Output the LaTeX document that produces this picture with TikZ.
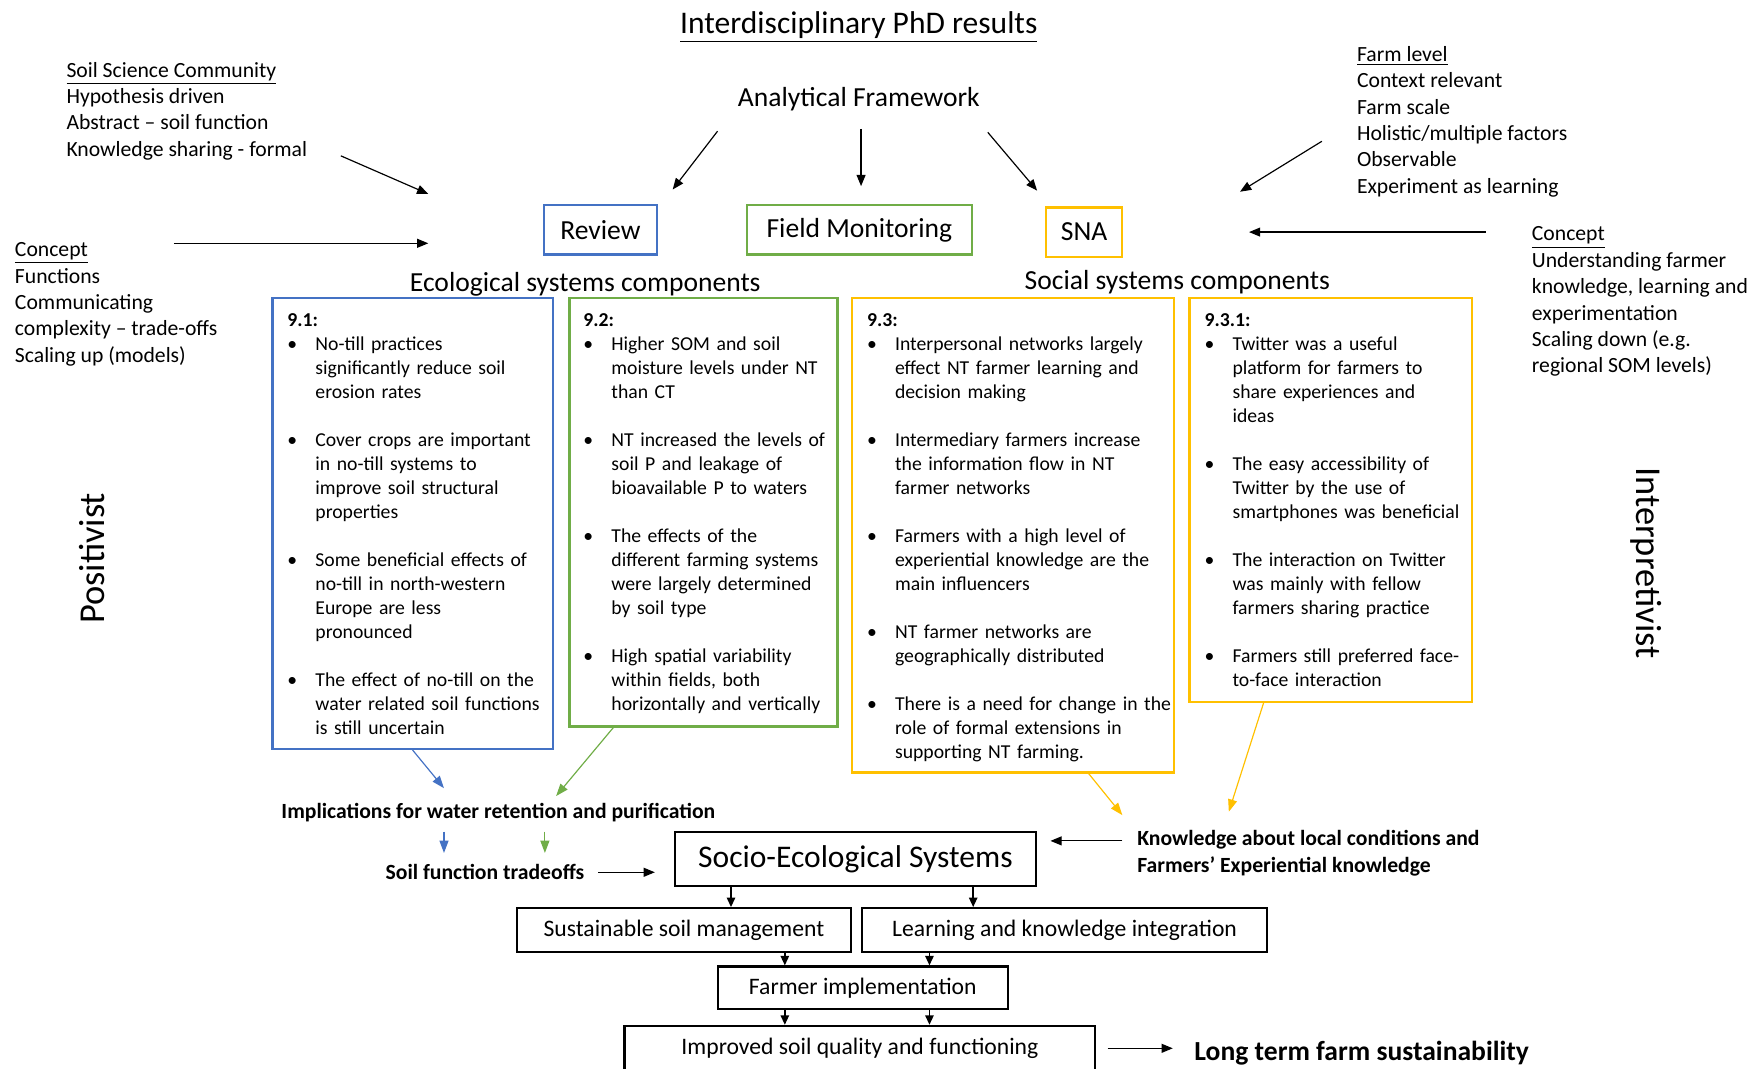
\documentclass[tikz,border=0pt]{standalone}
\usepackage{fontspec}
\setmainfont{Carlito}
\usepackage{enumitem}
\usetikzlibrary{arrows.meta,fit}
\definecolor{offblue}{HTML}{4472C4}
\definecolor{offgreen}{HTML}{70AD47}
\definecolor{offgold}{HTML}{FFC000}
\setlist[itemize]{label=\textbullet,leftmargin=0.5cm,labelsep=0pt,labelwidth=0.5cm,align=left,topsep=0pt,partopsep=0pt,parsep=0pt,itemsep=12.2pt}
\begin{document}
\begin{tikzpicture}[x=0.02cm,y=-0.02cm,hdr/.style={inner sep=0pt,font=\fontsize{14}{17}\selectfont},side/.style={anchor=north west,align=left,inner sep=0pt,font=\fontsize{11}{13.4}\selectfont},meth/.style={draw=#1,line width=1.1pt,minimum height=0.88cm,font=\fontsize{14}{17}\selectfont},resbox/.style={draw=#1,line width=1.1pt,inner sep=0pt},restext/.style={anchor=north west,inner sep=0pt,text width=6cm,font=\fontsize{10}{12.2}\selectfont},flow/.style={draw=black,line width=1.1pt,font=\fontsize{12}{14.5}\selectfont},boldtxt/.style={inner sep=0pt,align=left,font=\fontsize{11}{13.7}\selectfont\bfseries},arr/.style={black,line width=0.6pt,-{Triangle[length=0.2cm,width=0.16cm]}},carr/.style={#1,line width=0.6pt,-{Triangle[length=0.22cm,width=0.16cm]}},farr/.style={black,line width=0.8pt,-{Triangle[length=0.17cm,width=0.15cm]}}]
\useasboundingbox (0,0) rectangle (1568,953);

\node[hdr,font=\fontsize{16}{19}\selectfont] (phdT) at (766,24) {\underline{Interdisciplinary PhD results}};
\node[hdr] (afT) at (766,88) {Analytical Framework};

\node[side] (sscL) at (59,55) {\underline{Soil Science Community}\\Hypothesis driven\\Abstract -- soil function\\Knowledge sharing - formal};
\node[side] (farmL) at (1210,41) {\underline{Farm level}\\Context relevant\\Farm scale\\Holistic/multiple factors\\Observable\\Experiment as learning};
\node[side] (conL) at (13,216) {\underline{Concept}\\Functions\\Communicating\\complexity -- trade-offs\\Scaling up (models)};
\node[side] (conR) at (1366,202) {\underline{Concept}\\Understanding farmer\\knowledge, learning and\\experimentation\\Scaling down (e.g.\\regional SOM levels)};

\node[rotate=90,inner sep=0pt,font=\fontsize{18.5}{22}\selectfont] (posT) at (82,498) {Positivist};
\node[rotate=-90,inner sep=0pt,font=\fontsize{18.5}{22}\selectfont] (intT) at (1468,502) {Interpretivist};

\node[meth=offblue,minimum width=2.02cm] (revB) at (535.5,205) {Review};
\node[meth=offgreen,minimum width=4.02cm] (fmB) at (766.5,205) {Field Monitoring};
\node[meth=offgold,minimum width=1.36cm] (snaB) at (967,207) {SNA};

\node[hdr] (ecoT) at (522,254) {Ecological systems components};
\node[hdr] (socT) at (1050,252) {Social systems components};

\node[resbox=offblue,fit={(243,266)(493,668)}] (r91B) {};
\node[resbox=offgreen,fit={(508,266)(747,648)}] (r92B) {};
\node[resbox=offgold,fit={(760,266)(1047,689)}] (r93B) {};
\node[resbox=offgold,fit={(1061,266)(1313,626)}] (r931B) {};

\node[restext] (r91T) at (256,279) {\textbf{9.1:}
\begin{itemize}
\item No-till practices\\significantly reduce soil\\erosion rates
\item Cover crops are important\\in no-till systems to\\improve soil structural\\properties
\item Some beneficial effects of\\no-till in north-western\\Europe are less\\pronounced
\item The effect of no-till on the\\water related soil functions\\is still uncertain
\end{itemize}};
\node[restext] (r92T) at (520,279) {\textbf{9.2:}
\begin{itemize}
\item Higher SOM and soil\\moisture levels under NT\\than CT
\item NT increased the levels of\\soil P and leakage of\\bioavailable P to waters
\item The effects of the\\different farming systems\\were largely determined\\by soil type
\item High spatial variability\\within fields, both\\horizontally and vertically
\end{itemize}};
\node[restext] (r93T) at (773,279) {\textbf{9.3:}
\begin{itemize}
\item Interpersonal networks largely\\effect NT farmer learning and\\decision making
\item Intermediary farmers increase\\the information flow in NT\\farmer networks
\item Farmers with a high level of\\experiential knowledge are the\\main influencers
\item NT farmer networks are\\geographically distributed
\item There is a need for change in the\\role of formal extensions in\\supporting NT farming.
\end{itemize}};
\node[restext] (r931T) at (1074,279) {\textbf{9.3.1:}
\begin{itemize}
\item Twitter was a useful\\platform for farmers to\\share experiences and\\ideas
\item The easy accessibility of\\Twitter by the use of\\smartphones was beneficial
\item The interaction on Twitter\\was mainly with fellow\\farmers sharing practice
\item Farmers still preferred face-\\to-face interaction
\end{itemize}};

\node[boldtxt] (impT) at (444.5,725) {Implications for water retention and purification};
\node[boldtxt] (sftT) at (432.5,778) {Soil function tradeoffs};
\node[boldtxt,anchor=north west] (knwT) at (1014,740) {Knowledge about local conditions and\\Farmers' Experiential knowledge};
\node[boldtxt,font=\fontsize{14}{17}\selectfont\bfseries] (ltsT) at (1214.5,939) {Long term farm sustainability};

\node[flow,minimum width=6.44cm,minimum height=0.96cm,font=\fontsize{16}{19}\selectfont] (sesB) at (763,766) {Socio-Ecological Systems};
\node[flow,minimum width=5.96cm,minimum height=0.78cm] (ssmB) at (610,829.5) {Sustainable soil management};
\node[flow,minimum width=7.22cm,minimum height=0.78cm] (lkiB) at (949.5,829.5) {Learning and knowledge integration};
\node[flow,minimum width=5.18cm,minimum height=0.76cm] (fiB) at (769.5,881) {Farmer implementation};
\node[flow,minimum width=8.4cm,minimum height=0.8cm] (isqB) at (767,935) {Improved soil quality and functioning};

\coordinate (sscA) at (304,139);
\coordinate (sscB) at (382,173);
\coordinate (conLA) at (155,217);
\coordinate (conLB) at (382,217);
\coordinate (afA) at (640,117);
\coordinate (afB) at (600,169);
\coordinate (afC) at (768,115);
\coordinate (afD) at (768,166);
\coordinate (afE) at (881,118);
\coordinate (afF) at (925,170);
\coordinate (farmA) at (1179,126);
\coordinate (farmB) at (1106,171);
\coordinate (conRA) at (1325,207);
\coordinate (conRB) at (1114,207);
\coordinate (blueT) at (396,703);
\coordinate (greenT) at (496,710);
\coordinate (goldT) at (1001,727);
\coordinate (goldU) at (1096,724);
\coordinate (knwA) at (1001,750);
\coordinate (gBlue) at (396,0);
\coordinate (gGreen) at (486,0);
\coordinate (gA) at (652,0);
\coordinate (gB) at (868,0);
\coordinate (gC) at (700,0);
\coordinate (gD) at (829,0);

\draw[arr] (sscA) -- (sscB);
\draw[arr] (conLA) -- (conLB);
\draw[arr] (afA) -- (afB);
\draw[arr] (afC) -- (afD);
\draw[arr] (afE) -- (afF);
\draw[arr] (farmA) -- (farmB);
\draw[arr] (conRA) -- (conRB);

\draw[carr=offblue] (r91B.south) -- (blueT);
\draw[carr=offgreen] ([xshift=-1.61cm]r92B.south) -- (greenT);
\draw[carr=offgold] ([xshift=1.35cm]r93B.south) -- (goldT);
\draw[carr=offgold] ([xshift=-1.2cm]r931B.south) -- (goldU);
\draw[carr=offblue,shorten <=0.16cm,shorten >=0.2cm] (gBlue |- impT.south) -- (gBlue |- sftT.north);
\draw[carr=offgreen,shorten <=0.16cm,shorten >=0.2cm] (gGreen |- impT.south) -- (gGreen |- sftT.north);

\draw[arr,shorten <=0.24cm,shorten >=0.34cm] (sftT.east) -- (sftT.east -| sesB.west);
\draw[arr,shorten >=0.24cm] (knwA) -- (knwA -| sesB.east);
\draw[farr] (gA |- sesB.south) -- (gA |- ssmB.north);
\draw[farr] (gB |- sesB.south) -- (gB |- lkiB.north);
\draw[farr] (gC |- ssmB.south) -- (gC |- fiB.north);
\draw[farr] (gD |- lkiB.south) -- (gD |- fiB.north);
\draw[farr] (gC |- fiB.south) -- (gC |- isqB.north);
\draw[farr] (gD |- fiB.south) -- (gD |- isqB.north);
\draw[arr,shorten <=0.2cm,shorten >=0.38cm] (isqB.east) -- (isqB.east -| ltsT.west);
\end{tikzpicture}
\end{document}
